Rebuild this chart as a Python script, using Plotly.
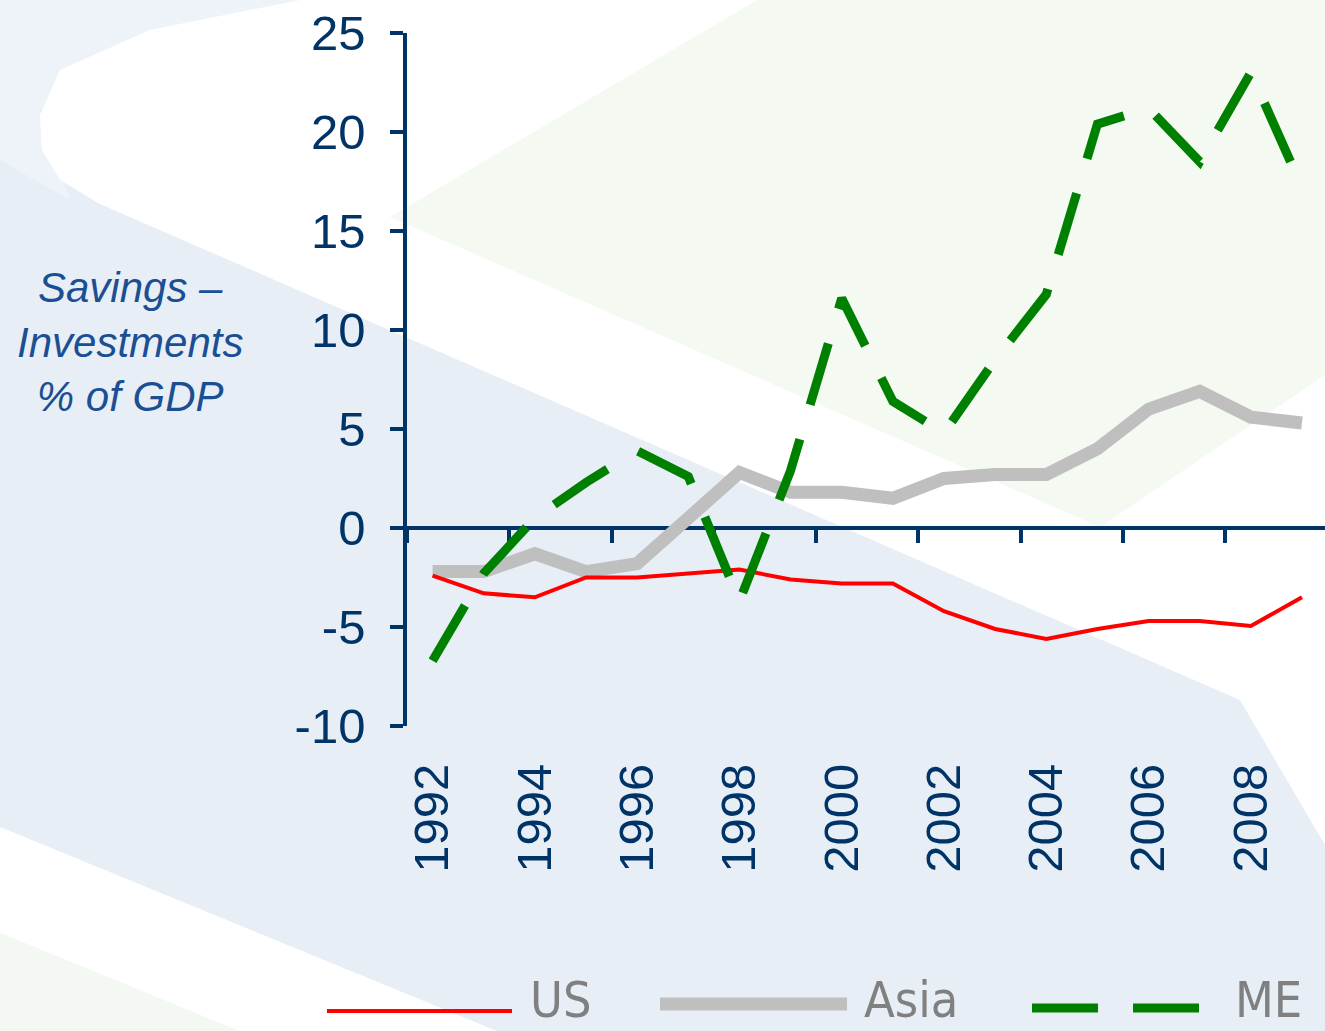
import plotly.graph_objects as go

# ---------------- data ----------------
years = list(range(1992, 2010))
us = [-2.4, -3.3, -3.5, -2.5, -2.5, -2.3, -2.1, -2.6, -2.8, -2.8, -4.2, -5.1, -5.6, -5.1, -4.7, -4.7, -4.95, -3.5]
asia = [-2.2, -2.2, -1.3, -2.2, -1.8, 0.5, 2.8, 1.8, 1.8, 1.5, 2.5, 2.7, 2.7, 4.0, 6.0, 6.9, 5.6, 5.3]
me = [-6.7, -2.3, 0.5, 2.3, 3.9, 2.6, -3.7, 2.9, 11.6, 6.4, 4.8, 8.5, 11.8, 20.4, 21.2, 18.5, 23.0, 17.2]

label_years = list(range(1992, 2010, 2))
y_ticks = [-10, -5, 0, 5, 10, 15, 20, 25]
y_tick_text = ["-10", "-5", "0", "5", "10", "15", "20", "25"]
series_names = ["US", "Asia", "ME"]

# ---------------- style ----------------
W, H = 1325, 1031
ML, MR, MT, MB = 407, 0, 33, 305
PW, PH = W - ML - MR, H - MT - MB
NAVY = "#003366"
styles = {
    "US": dict(color="#FF0000", width=4, dash="solid"),
    "Asia": dict(color="#BFBFBF", width=13, dash="solid"),
    "ME": dict(color="#008000", width=9, dash="64px,36px"),
}


def px(x, y):
    """pixel -> paper coordinates"""
    return (x - ML) / PW, (H - MB - y) / PH


def path(points):
    s = ""
    for i, (x, y) in enumerate(points):
        a, b = px(x, y)
        s += ("M" if i == 0 else "L") + f"{a:.5f},{b:.5f} "
    return s + "Z"


fig = go.Figure()
fig.add_trace(go.Scatter(x=years, y=asia, name="Asia", mode="lines",
                         line=dict(color=styles["Asia"]["color"], width=styles["Asia"]["width"]),
                         showlegend=False))
fig.add_trace(go.Scatter(x=years, y=us, name="US", mode="lines",
                         line=dict(color=styles["US"]["color"], width=styles["US"]["width"]),
                         showlegend=False))
fig.add_trace(go.Scatter(x=years, y=me, name="ME", mode="lines", xaxis="x2",
                         line=dict(color=styles["ME"]["color"], width=styles["ME"]["width"],
                                   dash=styles["ME"]["dash"]),
                         showlegend=False))

xr = [1991.5, 2009.45]
shapes = []
# background decoration
shapes.append(dict(type="path", xref="paper", yref="paper", layer="below", line=dict(width=0),
                   fillcolor="#EEF3F9",
                   path=path([(0, 0), (320, 0), (40, 110), (70, 200), (0, 160)])))
white_pts = [(300, 0), (1325, 0), (1325, 845), (1240, 700), (100, 204), (60, 180), (42, 150),
             (40, 115), (60, 70), (150, 30)]
shapes.append(dict(type="path", xref="paper", yref="paper", layer="below", line=dict(width=0),
                   fillcolor="#FFFFFF", path=path(white_pts)))
shapes.append(dict(type="path", xref="paper", yref="paper", layer="below", line=dict(width=0),
                   fillcolor="#F4F9F2",
                   path=path([(390, 217), (757, 0), (1325, 0), (1325, 375), (1100, 527)])))
shapes.append(dict(type="path", xref="paper", yref="paper", layer="below", line=dict(width=0),
                   fillcolor="#FFFFFF",
                   path=path([(0, 827), (497, 1031), (239, 1031), (0, 933)])))
shapes.append(dict(type="path", xref="paper", yref="paper", layer="below", line=dict(width=0),
                   fillcolor="#F4F8F2",
                   path=path([(0, 933), (239, 1031), (0, 1031)])))

# legend keys
legend_keys = {"US": (327, 512, 1011), "Asia": (660, 847, 1004), "ME": (1032, 1200, 1008)}
legend_text_x = {"US": 528, "Asia": 862, "ME": 1233}
annotations = []
for name in series_names:
    x0, x1, yy = legend_keys[name]
    a0, b0 = px(x0, yy)
    a1, _ = px(x1, yy)
    st = styles[name]
    shapes.append(dict(type="line", xref="paper", yref="paper", x0=a0, x1=a1, y0=b0, y1=b0,
                       line=dict(color=st["color"], width=st["width"],
                                 dash="66px,35px" if name == "ME" else "solid"),
                       layer="above"))
    tx, ty = px(legend_text_x[name], 1031)
    annotations.append(dict(text=name, xref="paper", yref="paper", x=tx, y=ty,
                            xanchor="left", yanchor="bottom", showarrow=False,
                            font=dict(family="Liberation Sans Narrow, Arial Narrow, DejaVu Sans Condensed, sans-serif",
                                      size=50, color="#808080")))

tx, ty = px(130, 342)
annotations.append(dict(text="<i>Savings –<br>Investments<br>% of GDP</i>", xref="paper", yref="paper",
                        x=tx, y=ty, xanchor="center", yanchor="middle", showarrow=False, align="center",
                        font=dict(family="Liberation Sans, Arial, sans-serif", size=42, color="#1B4F93")))

zero_pos = (0 - (-10)) / 35

fig.update_layout(
    width=W, height=H,
    margin=dict(l=ML, r=MR, t=MT, b=MB, autoexpand=False),
    paper_bgcolor="#E8EEF6", plot_bgcolor="rgba(0,0,0,0)",
    showlegend=False,
    font=dict(family="Liberation Sans, Arial, sans-serif", color=NAVY),
    xaxis=dict(range=xr, tickmode="array", tickvals=label_years, ticktext=[str(y) for y in label_years],
               tickangle=-90, showline=False, showgrid=False, zeroline=False, ticks="",
               ticklabelstandoff=27, tickfont=dict(size=49, color=NAVY), fixedrange=True),
    xaxis2=dict(range=xr, overlaying="x", anchor="free", position=zero_pos, side="bottom",
                tickmode="array", tickvals=[y - 0.5 for y in label_years] + [2009.5],
                showticklabels=False, ticks="outside", ticklen=13, tickwidth=3.5, tickcolor=NAVY,
                showline=True, linewidth=3.5, linecolor=NAVY, showgrid=False, zeroline=False,
                layer="below traces"),
    yaxis=dict(range=[-10, 25], tickmode="array", tickvals=y_ticks, ticktext=y_tick_text,
               ticks="outside", ticklen=13,
               tickwidth=3.5, tickcolor=NAVY, showline=True, linewidth=3.5, linecolor=NAVY,
               showgrid=False, zeroline=False, ticklabelstandoff=15,
               tickfont=dict(size=49, color=NAVY), layer="below traces"),
    shapes=shapes, annotations=annotations,
)

fig.write_html("out.html", config={"displayModeBar": False},
               post_script="document.body.style.margin='0';document.body.style.overflow='hidden';")
